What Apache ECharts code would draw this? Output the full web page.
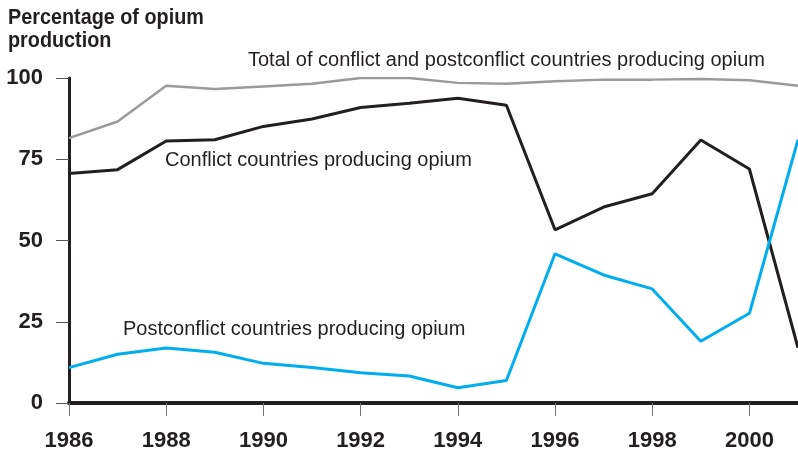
<!DOCTYPE html>
<html>
<head>
<meta charset="utf-8">
<script src="https://cdn.jsdelivr.net/npm/echarts@6/dist/echarts.min.js"></script>
<style>
  html, body { margin: 0; padding: 0; background: #fff; }
  #chart { width: 798px; height: 457px; }
</style>
</head>
<body>
<div id="chart"></div>
<script>
// 年份与三条线的数据
var years = [1986, 1987, 1988, 1989, 1990, 1991, 1992, 1993, 1994, 1995, 1996, 1997, 1998, 1999, 2000, 2001];
var totalShare = [81.5, 86.6, 97.6, 96.6, 97.4, 98.2, 100, 100, 98.5, 98.2, 99, 99.5, 99.5, 99.7, 99.3, 97.6];
var conflictShare = [70.6, 71.8, 80.6, 81, 85.1, 87.4, 90.9, 92.2, 93.8, 91.6, 53.3, 60.3, 64.4, 80.9, 72, 17];
var postconflictShare = [10.9, 15, 16.9, 15.6, 12.2, 10.9, 9.3, 8.3, 4.7, 6.9, 45.9, 39.4, 35.1, 19, 27.6, 81];
var yTicks = [0, 25, 50, 75, 100];
var xTicks = [1986, 1988, 1990, 1992, 1994, 1996, 1998, 2000];

var FONT = "'Liberation Sans Narrow', 'Arial Narrow', 'Liberation Sans', sans-serif";

function pairs(vals) {
    return years.map(function (y, i) { return [y, vals[i]]; });
}

var chart = echarts.init(document.getElementById('chart'), null, { renderer: 'canvas' });

var option = {
    animation: false,
    grid: { left: 69, right: -1, top: 78, bottom: 54, containLabel: false },
    xAxis: {
        type: 'value',
        min: 1986,
        max: 2001,
        interval: 2,
        axisLine: { show: true, onZero: false, lineStyle: { color: '#231f20', width: 4 } },
        axisTick: { show: true, length: 13, customValues: xTicks, lineStyle: { color: '#777', width: 1 } },
        axisLabel: {
            margin: 27,
            color: '#231f20',
            fontFamily: FONT,
            fontWeight: 'bold',
            fontSize: 22,
            customValues: xTicks,
            formatter: function (v) { return String(v); }
        },
        splitLine: { show: false }
    },
    yAxis: {
        type: 'value',
        min: 0,
        max: 100,
        interval: 25,
        axisLine: { show: true, lineStyle: { color: '#231f20', width: 3 } },
        axisTick: { show: true, length: 13, lineStyle: { color: '#555', width: 1 } },
        axisLabel: {
            margin: 26,
            color: '#231f20',
            fontFamily: FONT,
            fontWeight: 'bold',
            fontSize: 22,
            formatter: function (v) { return yTicks.indexOf(v) >= 0 ? String(v) : ''; }
        },
        splitLine: { show: false }
    },
    series: [
        {
            name: 'Total',
            type: 'line',
            data: pairs(totalShare),
            symbol: 'none',
            z: 2,
            lineStyle: { color: '#9a9a9a', width: 2.5 }
        },
        {
            name: 'Conflict',
            type: 'line',
            data: pairs(conflictShare),
            symbol: 'none',
            z: 3,
            lineStyle: { color: '#231f20', width: 3 }
        },
        {
            name: 'Postconflict',
            type: 'line',
            data: pairs(postconflictShare),
            symbol: 'none',
            z: 4,
            lineStyle: { color: '#00aeef', width: 3 }
        }
    ],
    graphic: [
        {
            type: 'text', left: 8, top: 6, scaleX: 0.9,
            style: {
                text: 'Percentage of opium\nproduction',
                fill: '#231f20',
                font: 'bold 22px ' + FONT,
                lineHeight: 23
            }
        },
        {
            type: 'text', left: 248, top: 50,
            style: { text: 'Total of conflict and postconflict countries producing opium', fill: '#231f20', font: '20px ' + FONT }
        },
        {
            type: 'text', left: 165, top: 150,
            style: { text: 'Conflict countries producing opium', fill: '#231f20', font: '20px ' + FONT }
        },
        {
            type: 'text', left: 123, top: 319,
            style: { text: 'Postconflict countries producing opium', fill: '#231f20', font: '20px ' + FONT }
        }
    ]
};

chart.setOption(option);
window.onresize = function () { chart.resize(); };
</script>
</body>
</html>
